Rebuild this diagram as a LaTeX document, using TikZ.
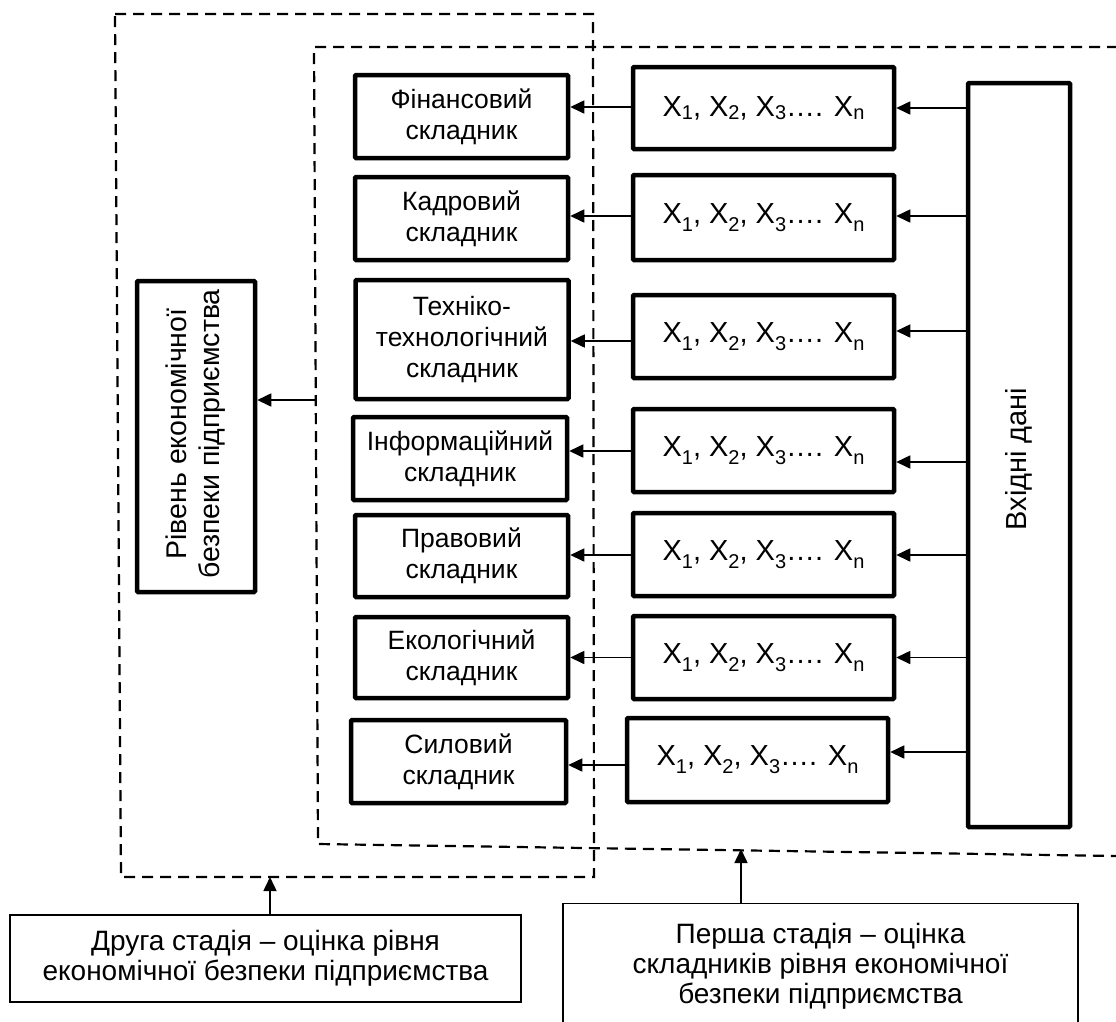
\documentclass[tikz,border=0pt]{standalone}
\usepackage{fontspec}
\setmainfont{Liberation Sans}
\usetikzlibrary{arrows.meta,calc}
\newcommand{\xsub}[1]{\raisebox{-0.28em}{\fontsize{20}{20}\selectfont #1}}
\newcommand{\xsubb}[1]{\raisebox{-0.12em}{\fontsize{20}{20}\selectfont #1}}
\newcommand{\xlist}{X\xsub{1}, X\xsub{2}, X\xsub{3}…. X\xsub{n}}
\begin{document}
\begin{tikzpicture}[x=1pt,y=-1pt,
  thickbox/.style={draw,line width=4.5pt,rounded corners=1pt,inner sep=0pt,align=center},
  comp/.style={thickbox,minimum width=213pt,font=\fontsize{26.5}{31}\selectfont},
  xbox/.style={thickbox,minimum width=261pt,font=\fontsize{29}{33}\selectfont},
  thinbox/.style={draw,line width=1.2pt,inner sep=0pt,align=center,font=\fontsize{28}{30}\selectfont},
  arr/.style={line width=1.6pt,-{Triangle[length=14pt,width=13pt]}},
  dsh/.style={line width=2.2pt,dash pattern=on 11pt off 7pt}]
\useasboundingbox (0,0) rectangle (1116,1021);

% dashed stage frames
\coordinate (oTL) at (115,14);
\coordinate (oTR) at (593,14);
\coordinate (oBR) at (594,877);
\coordinate (oBL) at (121,877);
\draw[dsh] (oTL) -- (oTR) -- (oBR) -- (oBL) -- cycle;
\coordinate (iTR) at (1118,47);
\coordinate (iTL) at (314,47);
\coordinate (iBL) at (318,844);
\coordinate (iBR) at (1118,856);
\draw[dsh] (iTR) -- (iTL) -- (iBL) -- (iBR);

% component boxes
\node[comp,minimum height=83pt] (C1) at (461.5,116.5) {Фінансовий\\складник};
\node[comp,minimum height=83pt] (C2) at (461.5,218.5) {Кадровий\\складник};
\node[comp,minimum height=119pt] (C3) at (462,339.5) {Техніко-\\технологічний\\складник};
\node[comp,minimum width=214pt,minimum height=83pt] (C4) at (460,458.5) {Інформаційний\\складник};
\node[comp,minimum height=82pt] (C5) at (461.5,556) {Правовий\\складник};
\node[comp,minimum height=81pt] (C6) at (461.5,657.5) {Екологічний\\складник};
\node[comp,minimum width=215pt,minimum height=83pt] (C7) at (458.5,761.5) {Силовий\\складник};

% indicator boxes
\node[xbox,minimum height=82pt] (X1) at (763.5,108) {X\xsubb{1}, X\xsubb{2}, X\xsubb{3}…. X\xsubb{n}};
\node[xbox,minimum height=85pt] (X2) at (763.5,217.5) {\xlist};
\node[xbox,minimum height=83pt] (X3) at (763.5,336.5) {\xlist};
\node[xbox,minimum height=83pt] (X4) at (763.5,450.5) {\xlist};
\node[xbox,minimum height=83pt] (X5) at (763.5,554.5) {\xlist};
\node[xbox,minimum height=83pt] (X6) at (763.5,657.5) {\xlist};
\node[xbox,minimum height=84pt] (X7) at (757.5,760) {\xlist};

% input data
\node[thickbox,minimum width=102pt,minimum height=744pt] (V) at (1019,455) {};
\node[rotate=90,font=\fontsize{29}{33}\selectfont] (Vt) at (1019,459) {Вхідні дані};

% level box
\node[thickbox,minimum width=118pt,minimum height=311pt] (R) at (196,436.5) {};
\node[rotate=90,align=center,font=\fontsize{28.5}{33}\selectfont] (Rt) at (196,434) {Рівень економічної\\безпеки підприємства};

% stage boxes
\node[thinbox,minimum width=511pt,minimum height=87pt] (D) at (265.5,958.5) {Друга стадія – оцінка рівня\\економічної безпеки підприємства};
\node[thinbox,minimum width=515pt,minimum height=125pt] (P) at (820.5,966) {Перша стадія – оцінка\\складників рівня економічної\\безпеки підприємства};

% arrows: input -> indicators
\coordinate (a1) at (X1.east);
\coordinate (a2) at ([yshift=1.5pt]X2.east);
\coordinate (a3) at ([yshift=5.5pt]X3.east);
\coordinate (a4) at ([yshift=-11.5pt]X4.east);
\coordinate (a5) at ([yshift=-0.5pt]X5.east);
\coordinate (a6) at (X6.east);
\coordinate (a7) at ([yshift=8pt]X7.east);
\foreach \i in {1,...,7} {\draw[arr] (V.west |- a\i) -- (a\i);}

% arrows: indicators -> components
\coordinate (b1) at ([yshift=1pt]X1.west);
\coordinate (b2) at ([yshift=1.5pt]X2.west);
\coordinate (b3) at ([yshift=-4.5pt]X3.west);
\coordinate (b4) at ([yshift=-0.5pt]X4.west);
\coordinate (b5) at ([yshift=-0.5pt]X5.west);
\coordinate (b6) at (X6.west);
\coordinate (b7) at ([yshift=-5pt]X7.west);
\draw[arr] (b1) -- (C1.east |- b1);
\draw[arr] (b2) -- (C2.east |- b2);
\draw[arr] (b3) -- (C3.east |- b3);
\draw[arr] (b4) -- (C4.east |- b4);
\draw[arr] (b5) -- (C5.east |- b5);
\draw[arr] (b6) -- (C6.east |- b6);
\draw[arr] (b7) -- (C7.east |- b7);

% arrow: first stage frame -> level
\coordinate (iL) at (316,400);
\draw[arr] (iL) -- (R.east |- iL);

% stage arrows
\coordinate (dN) at ([xshift=4.5pt]D.north);
\draw[arr] (dN) -- (dN |- oBL);
\coordinate (pN) at ([xshift=-79.5pt]P.north);
\coordinate (pT) at (741,849);
\draw[arr] (pN) -- (pT);
\end{tikzpicture}
\end{document}
